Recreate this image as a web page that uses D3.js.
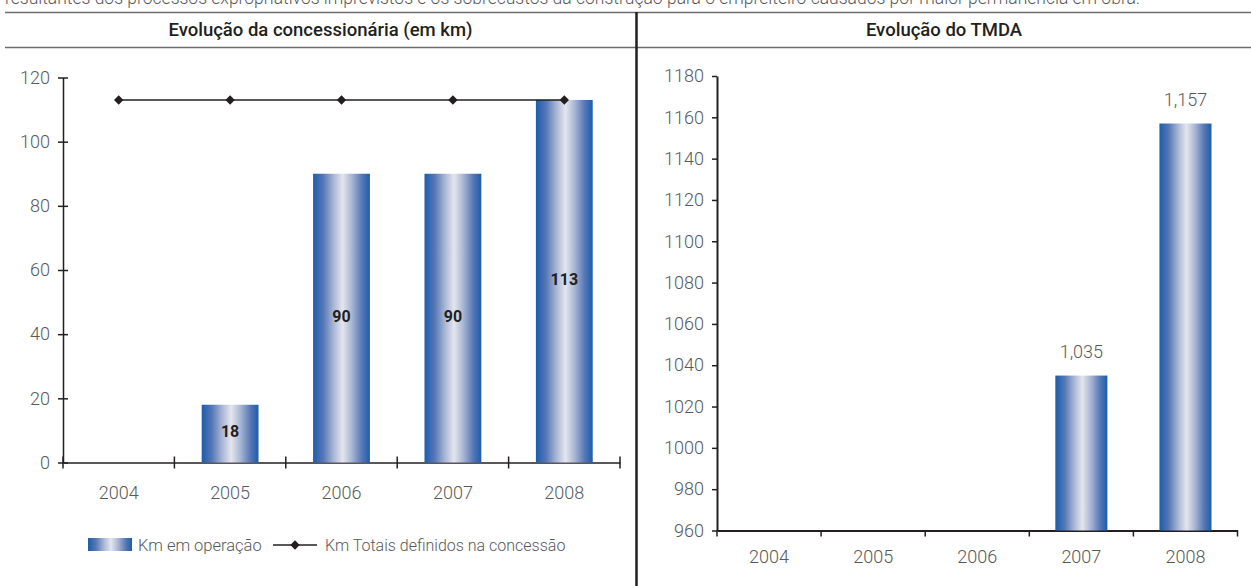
<!DOCTYPE html>
<html>
<head>
<meta charset="utf-8">
<script src="https://cdn.jsdelivr.net/npm/d3@7"></script>
<style>
  html, body { margin: 0; padding: 0; background: #fff; }
  svg { display: block; }
  .light { font-family: Roboto, "Noto Sans", sans-serif; font-weight: 300; fill: #58595b; }
  .bold { font-family: Roboto, "Noto Sans", sans-serif; font-weight: 700; fill: #231f20; }
</style>
</head>
<body>
<svg id="chart" width="1251" height="586"></svg>
<script>
// Anos comuns aos dois gráficos
const years = ["2004", "2005", "2006", "2007", "2008"];

// Evolução da concessionária (em km)
const kmOperacao = [null, 18, 90, 90, 113];
const kmTotais = [113, 113, 113, 113, 113];
const kmTicks = [0, 20, 40, 60, 80, 100, 120];

// Evolução do TMDA
const tmda = [null, null, null, 1035, 1157];
const tmdaTicks = [960, 980, 1000, 1020, 1040, 1060, 1080, 1100, 1120, 1140, 1160, 1180];

const leftTitle = "Evolução da concessionária (em km)";
const rightTitle = "Evolução do TMDA";
const legendBars = "Km em operação";
const legendLine = "Km Totais definidos na concessão";
const headerText = "resultantes dos processos expropriativos imprevistos e os sobrecustos da construção para o empreiteiro causados por maior permanência em obra.";

const svg = d3.select("#chart");
const ink = "#231f20";

// Gradiente cilíndrico das barras
const grad = svg.append("defs").append("linearGradient")
  .attr("id", "barGrad").attr("x1", 0).attr("x2", 1).attr("y1", 0).attr("y2", 0);
[[0, "#1b5dab"], [0.18, "#5677b6"], [0.36, "#a9b6d4"], [0.52, "#e4e6ee"], [0.68, "#a9b6d4"], [0.86, "#5677b6"], [1, "#1b5dab"]]
  .forEach(([o, c]) => grad.append("stop").attr("offset", o).attr("stop-color", c));

// Texto de cabeçalho (continuação do parágrafo anterior, cortado no topo)
svg.append("text").attr("class", "light").attr("x", 5).attr("y", 3.5)
  .style("font-size", "17.5px").text(headerText);

// Linhas do quadro
svg.append("line").attr("x1", 5).attr("x2", 1251).attr("y1", 12.5).attr("y2", 12.5)
  .attr("stroke", "#6d6e71").attr("stroke-width", 1.5);
svg.append("line").attr("x1", 5).attr("x2", 1251).attr("y1", 47.5).attr("y2", 47.5)
  .attr("stroke", "#6d6e71").attr("stroke-width", 1.5);
svg.append("line").attr("x1", 636.5).attr("x2", 636.5).attr("y1", 12).attr("y2", 586)
  .attr("stroke", ink).attr("stroke-width", 2.5);

// Títulos
svg.append("text").attr("class", "bold").attr("x", 320.5).attr("y", 30)
  .attr("text-anchor", "middle").attr("dominant-baseline", "central")
  .style("font-size", "18.5px").style("font-weight", 500).text(leftTitle);
svg.append("text").attr("class", "bold").attr("x", 944).attr("y", 30)
  .attr("text-anchor", "middle").attr("dominant-baseline", "central")
  .style("font-size", "18.5px").style("font-weight", 500).text(rightTitle);

function styleAxisText(g, size) {
  g.selectAll("text").attr("class", "light").style("font-size", size + "px")
    .attr("fill", null);
}

// ---------- Gráfico da esquerda ----------
const xL = d3.scaleBand().domain(years).range([63, 620]).padding(0);
const yL = d3.scaleLinear().domain([0, 120]).range([462.5, 77.5]);

const gyL = svg.append("g").attr("transform", `translate(${xL.range()[0]},0)`)
  .call(d3.axisLeft(yL).tickValues(kmTicks).tickSize(5).tickSizeOuter(0).tickPadding(8));
gyL.select(".domain").attr("stroke", ink).attr("stroke-width", 1.5);
gyL.selectAll(".tick line").attr("x1", 5).attr("stroke", ink).attr("stroke-width", 1.5);
styleAxisText(gyL, 18);

const gxL = svg.append("g").attr("transform", `translate(0,${yL(0)})`)
  .call(d3.axisBottom(xL).tickSize(0).tickPadding(24));
gxL.select(".domain").attr("stroke", ink).attr("stroke-width", 1.5);
styleAxisText(gxL, 18);
const boundsL = years.map(y => xL(y)).concat([xL.range()[1]]);
gxL.selectAll(".bound").data(boundsL).enter().append("line")
  .attr("x1", d => d).attr("x2", d => d).attr("y1", -6).attr("y2", 6)
  .attr("stroke", ink).attr("stroke-width", 1.5);

const dataL = years.map((y, i) => ({ year: y, v: kmOperacao[i], t: kmTotais[i] }));
const bwL = xL.bandwidth() * 0.51;
const barsL = dataL.filter(d => d.v != null);
svg.append("g").selectAll("rect").data(barsL).enter().append("rect")
  .attr("x", d => xL(d.year) + (xL.bandwidth() - bwL) / 2)
  .attr("width", bwL)
  .attr("y", d => yL(d.v))
  .attr("height", d => yL(0) - yL(d.v))
  .attr("fill", "url(#barGrad)");
svg.append("g").selectAll("text").data(barsL).enter().append("text")
  .attr("class", "bold")
  .attr("x", d => xL(d.year) + xL.bandwidth() / 2)
  .attr("y", d => (yL(d.v) + yL(0)) / 2 - 2)
  .attr("text-anchor", "middle").attr("dominant-baseline", "central")
  .style("font-size", "16px").text(d => d.v);

const cx = d => xL(d.year) + xL.bandwidth() / 2;
svg.append("path").datum(dataL)
  .attr("d", d3.line().x(cx).y(d => yL(d.t)))
  .attr("fill", "none").attr("stroke", ink).attr("stroke-width", 1.6);
const diamond = d3.symbol().type(d3.symbolSquare).size(44);
svg.append("g").selectAll("path").data(dataL).enter().append("path")
  .attr("d", diamond)
  .attr("transform", d => `translate(${cx(d)},${yL(d.t)}) rotate(45)`)
  .attr("fill", ink);

// Legenda
const lg = svg.append("g").attr("transform", "translate(88,545)");
lg.append("rect").attr("x", 0).attr("y", -7).attr("width", 44).attr("height", 13)
  .attr("fill", "url(#barGrad)");
lg.append("text").attr("class", "light").attr("x", 50).attr("y", 0)
  .attr("dominant-baseline", "central").style("font-size", "16.5px").text(legendBars);
lg.append("line").attr("x1", 185).attr("x2", 229).attr("y1", 0).attr("y2", 0)
  .attr("stroke", ink).attr("stroke-width", 1.6);
lg.append("path").attr("d", diamond).attr("transform", "translate(207,0) rotate(45)")
  .attr("fill", ink);
lg.append("text").attr("class", "light").attr("x", 237).attr("y", 0)
  .attr("dominant-baseline", "central").style("font-size", "16px").text(legendLine);

// ---------- Gráfico da direita ----------
const xR = d3.scaleBand().domain(years).range([717, 1237.5]).padding(0);
const yR = d3.scaleLinear().domain([960, 1180]).range([530.5, 76]);

const gyR = svg.append("g").attr("transform", `translate(${xR.range()[0]},0)`)
  .call(d3.axisLeft(yR).tickValues(tmdaTicks).tickFormat(d3.format("d"))
    .tickSize(5).tickSizeOuter(0).tickPadding(8));
gyR.select(".domain").attr("stroke", ink).attr("stroke-width", 2);
gyR.selectAll(".tick line").attr("stroke", ink).attr("stroke-width", 1.5);
styleAxisText(gyR, 18);

const gxR = svg.append("g").attr("transform", `translate(0,${yR(960)})`)
  .call(d3.axisBottom(xR).tickSize(0).tickPadding(20));
gxR.select(".domain").attr("stroke", ink).attr("stroke-width", 2);
styleAxisText(gxR, 18);
const boundsR = years.map(y => xR(y)).concat([xR.range()[1]]);
gxR.selectAll(".bound").data(boundsR).enter().append("line")
  .attr("x1", d => d).attr("x2", d => d).attr("y1", 0).attr("y2", 6)
  .attr("stroke", ink).attr("stroke-width", 1.5);

const dataR = years.map((y, i) => ({ year: y, v: tmda[i] })).filter(d => d.v != null);
const bwR = xR.bandwidth() * 0.5;
svg.append("g").selectAll("rect").data(dataR).enter().append("rect")
  .attr("x", d => xR(d.year) + (xR.bandwidth() - bwR) / 2)
  .attr("width", bwR)
  .attr("y", d => yR(d.v))
  .attr("height", d => yR(960) - yR(d.v))
  .attr("fill", "url(#barGrad)");
svg.append("g").selectAll("text").data(dataR).enter().append("text")
  .attr("class", "light")
  .attr("x", d => xR(d.year) + xR.bandwidth() / 2)
  .attr("y", d => yR(d.v) - 24)
  .attr("text-anchor", "middle").attr("dominant-baseline", "central")
  .style("font-size", "18px").text(d => d3.format(",")(d.v));
</script>
</body>
</html>
